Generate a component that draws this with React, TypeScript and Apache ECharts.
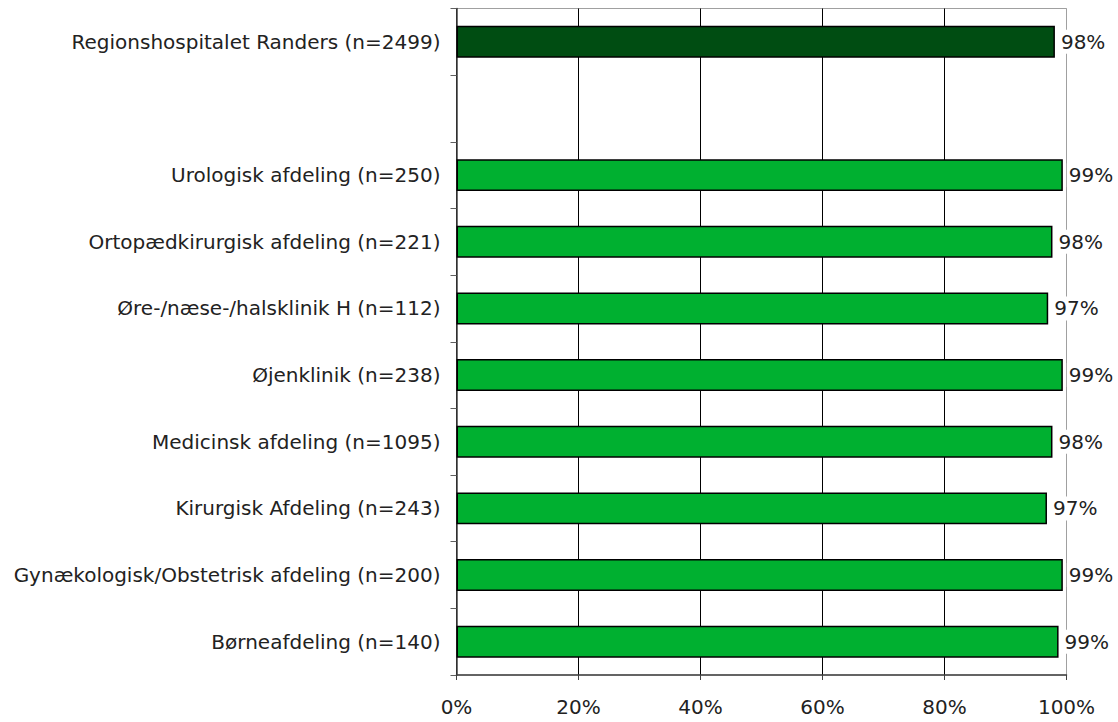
import React, { useEffect, useRef } from "react";
import * as echarts from "echarts";

const categories = [
  "Regionshospitalet Randers (n=2499)",
  "",
  "Urologisk afdeling (n=250)",
  "Ortopædkirurgisk afdeling (n=221)",
  "Øre-/næse-/halsklinik H (n=112)",
  "Øjenklinik (n=238)",
  "Medicinsk afdeling (n=1095)",
  "Kirurgisk Afdeling (n=243)",
  "Gynækologisk/Obstetrisk afdeling (n=200)",
  "Børneafdeling (n=140)",
];
const values: (number | null)[] = [98.1, null, 99.4, 97.7, 97.0, 99.4, 97.7, 96.8, 99.4, 98.7];
const labels = ["98%", "", "99%", "98%", "97%", "99%", "98%", "97%", "99%", "99%"];
const xTicks = [0, 20, 40, 60, 80, 100];

const FONT = "DejaVu Sans";
const FS = 20;

export default function App() {
  const ref = useRef<HTMLDivElement>(null);
  useEffect(() => {
    if (!ref.current) return;
    const chart = echarts.init(ref.current, null, { renderer: "svg" });
    chart.setOption({
      animation: false,
      grid: {
        left: 456.5,
        right: 51.5,
        top: 8.5,
        bottom: 47,
        show: true,
        borderColor: "#a0a0a0",
        borderWidth: 1,
        backgroundColor: "transparent",
      },
      xAxis: {
        type: "value",
        min: 0,
        max: 100,
        interval: 20,
        axisLine: { show: true, lineStyle: { color: "#404040", width: 1.5 } },
        axisTick: { show: true, length: 5, lineStyle: { color: "#404040" } },
        splitLine: {
          show: true,
          lineStyle: { color: ["#000", "#000", "#000", "#000", "#000", "#a0a0a0"], width: 1 },
        },
        axisLabel: {
          margin: 22,
          color: "#222",
          fontFamily: FONT,
          fontSize: FS,
          formatter: (v: number) => (xTicks.includes(v) ? v + "%" : ""),
        },
      },
      yAxis: {
        type: "category",
        inverse: true,
        data: categories,
        axisLine: { show: true, lineStyle: { color: "#404040", width: 1.5 } },
        axisTick: { show: true, length: 6, lineStyle: { color: "#606060" } },
        axisLabel: {
          margin: 16,
          color: "#222",
          fontFamily: FONT,
          fontSize: FS,
        },
      },
      series: [
        {
          type: "bar",
          barWidth: "48%",
          data: values.map((v, i) =>
            v === null
              ? "-"
              : {
                  value: v,
                  itemStyle: { color: i === 0 ? "#004d12" : "#00b030" },
                }
          ),
          itemStyle: { borderColor: "#000", borderWidth: 1.5 },
          label: {
            show: true,
            position: "right",
            distance: 4,
            color: "#222",
            fontFamily: FONT,
            fontSize: FS,
            backgroundColor: "#fff",
            padding: [2, 2],
            formatter: (p: any) => labels[p.dataIndex],
          },
        },
      ],
    });
    return () => chart.dispose();
  }, []);
  return <div ref={ref} style={{ width: 1118, height: 722, position: "absolute", left: 0, top: 0 }} />;
}
